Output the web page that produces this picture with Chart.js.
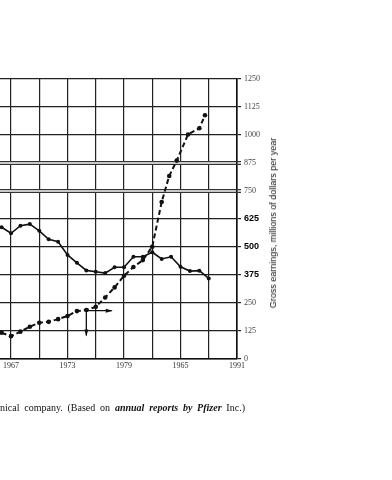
<!DOCTYPE html>
<html>
<head>
<meta charset="utf-8">
<script src="https://cdn.jsdelivr.net/npm/chart.js@4"></script>
<style>
  html, body { margin: 0; padding: 0; background: #fff; overflow: hidden; }
  #wrap { position: relative; width: 392px; height: 480px; overflow: hidden; }
  #chart { position: absolute; left: -10px; top: 0; }
  #yTitle {
    position: absolute; left: 273px; top: 223px;
    transform: translate(-50%, -50%) rotate(-90deg);
    font: 9px "Liberation Sans", Arial, sans-serif;
    white-space: nowrap; color: #111;
  }
  #caption {
    position: absolute; left: 0; top: 402px;
    font: 10px "Liberation Serif", serif;
    word-spacing: 2.3px; white-space: nowrap; color: #111;
  }
  #caption b { font-style: italic; }
</style>
</head>
<body>
<div id="wrap">
  <canvas id="chart" width="402" height="480"></canvas>
  <div id="yTitle">Gross earnings, millions of dollars per year</div>
  <div id="caption">nical company. (Based on <b>annual reports by Pfizer</b> Inc.)</div>
</div>
<script>
// solid line
const solidYears = [1966, 1967, 1968, 1969, 1970, 1971, 1972, 1973, 1974, 1975, 1976, 1977,
  1978, 1979, 1980, 1981, 1982, 1983, 1984, 1985, 1986, 1987, 1988];
const solidValues = [587, 560, 594, 601, 571, 533, 522, 463, 428, 394, 388, 382,
  408, 408, 455, 455, 475, 445, 455, 410, 391, 393, 358];

// dashed line
const dashedYears = [1966, 1967, 1968, 1969, 1970, 1971, 1972, 1973, 1974, 1975, 1976, 1977,
  1978, 1979, 1980, 1981, 1982, 1983, 1983.8, 1984.6, 1985.8, 1987, 1987.6];
const dashedValues = [115, 100, 120, 142, 160, 164, 176, 190, 212, 217, 231, 273,
  318, 370, 409, 440, 500, 700, 816, 885, 1002, 1030, 1088];

const xGridYears = [1967, 1970, 1973, 1976, 1979, 1982, 1985, 1988, 1991];
const xLabelYears = [1967, 1973, 1979, 1985, 1991];
const xLabelTexts = ['1967', '1973', '1979', '1965', '1991'];

const yTickValues = [0, 125, 250, 375, 500, 625, 750, 875, 1000, 1125, 1250];
const yTickLabels = ['0', '125', '250', '375', '500', '625', '750', '875', '1000', '1125', '1250'];
const boldTicks = [375, 500, 625];
const doubleLines = [750, 875];

// arrow marks near 1975
const arrowFrom = { x: 1975, y: 214 };
const arrowDownTo = { x: 1975, y: 103 };
const arrowRightTo = { x: 1977.7, y: 214 };

const toPoints = (xs, ys) => xs.map((x, i) => ({ x: x, y: ys[i] }));
const tickVal = c => (c && c.tick) ? c.tick.value : null;

// the two ruled double lines across the grid
const doubleLinePlugin = {
  id: 'doubleLines',
  beforeDatasetsDraw(chart) {
    const c = chart.ctx, a = chart.chartArea, ys = chart.scales.y;
    c.save();
    c.strokeStyle = '#333';
    c.lineWidth = 1;
    doubleLines.forEach(v => {
      const y = Math.round(ys.getPixelForValue(v));
      c.beginPath();
      c.moveTo(a.left, y - 1.5); c.lineTo(a.right + 4, y - 1.5);
      c.moveTo(a.left, y + 1.5); c.lineTo(a.right + 4, y + 1.5);
      c.stroke();
    });
    c.restore();
  }
};

const arrowPlugin = {
  id: 'arrows',
  afterDatasetsDraw(chart) {
    const c = chart.ctx, xs = chart.scales.x, ys = chart.scales.y;
    const x0 = xs.getPixelForValue(arrowFrom.x), y0 = ys.getPixelForValue(arrowFrom.y);
    const xd = xs.getPixelForValue(arrowDownTo.x), yd = ys.getPixelForValue(arrowDownTo.y);
    const xr = xs.getPixelForValue(arrowRightTo.x), yr = ys.getPixelForValue(arrowRightTo.y);
    c.save();
    c.strokeStyle = '#111';
    c.fillStyle = '#111';
    c.lineWidth = 1.3;
    c.beginPath();
    c.moveTo(x0, y0); c.lineTo(xd, yd);
    c.moveTo(x0, y0); c.lineTo(xr, yr);
    c.stroke();
    c.beginPath();
    c.moveTo(xd, yd + 1); c.lineTo(xd - 2, yd - 6); c.lineTo(xd + 2, yd - 6); c.closePath();
    c.moveTo(xr + 1, yr); c.lineTo(xr - 6, yr - 2); c.lineTo(xr - 6, yr + 2); c.closePath();
    c.fill();
    c.restore();
  }
};

const ctx = document.getElementById('chart').getContext('2d');
new Chart(ctx, {
  type: 'line',
  data: {
    datasets: [
      {
        data: toPoints(solidYears, solidValues),
        borderColor: '#111',
        backgroundColor: '#111',
        borderWidth: 1.6,
        pointRadius: 2,
        pointBorderWidth: 0,
        tension: 0,
        clip: false
      },
      {
        data: toPoints(dashedYears, dashedValues),
        borderColor: '#111',
        backgroundColor: '#111',
        borderWidth: 2,
        borderDash: [5, 3],
        pointRadius: 2.3,
        pointBorderWidth: 0,
        tension: 0,
        clip: false
      }
    ]
  },
  options: {
    responsive: false,
    animation: false,
    // left padding sits under the page edge: the figure is cut off on the left
    layout: { padding: { top: 79, left: 10, right: 0, bottom: 0 } },
    plugins: { legend: { display: false }, tooltip: { enabled: false } },
    scales: {
      x: {
        type: 'linear',
        min: 1965.83,
        max: 1991,
        afterBuildTicks: s => { s.ticks = xGridYears.map(v => ({ value: v })); },
        afterFit: s => { s.height = 480 - 358.5; },
        ticks: {
          autoSkip: false,
          maxRotation: 0,
          padding: 3,
          color: '#333',
          font: { family: 'Liberation Serif', size: 8 },
          callback: v => {
            const i = xLabelYears.indexOf(v);
            return i >= 0 ? xLabelTexts[i] : '';
          }
        },
        grid: { color: '#222', lineWidth: 1.2, drawTicks: false },
        border: { display: true, color: '#111', width: 1.6 }
      },
      y: {
        position: 'right',
        min: 0,
        max: 1250,
        afterBuildTicks: s => { s.ticks = yTickValues.map(v => ({ value: v })); },
        afterFit: s => { s.width = 402 - 247; },
        ticks: {
          padding: 3,
          color: c => boldTicks.includes(tickVal(c)) ? '#000' : '#444',
          font: c => boldTicks.includes(tickVal(c))
            ? { family: 'Liberation Sans', size: 9, weight: 'bold' }
            : { family: 'Liberation Serif', size: 8 },
          callback: v => yTickLabels[yTickValues.indexOf(v)]
        },
        grid: {
          color: c => doubleLines.includes(tickVal(c)) ? '#c8c8c8' : '#222',
          lineWidth: c => doubleLines.includes(tickVal(c)) ? 2 : 1.2,
          tickLength: 4
        },
        border: { color: '#111', width: 1.6 }
      }
    }
  },
  plugins: [doubleLinePlugin, arrowPlugin]
});
</script>
</body>
</html>
